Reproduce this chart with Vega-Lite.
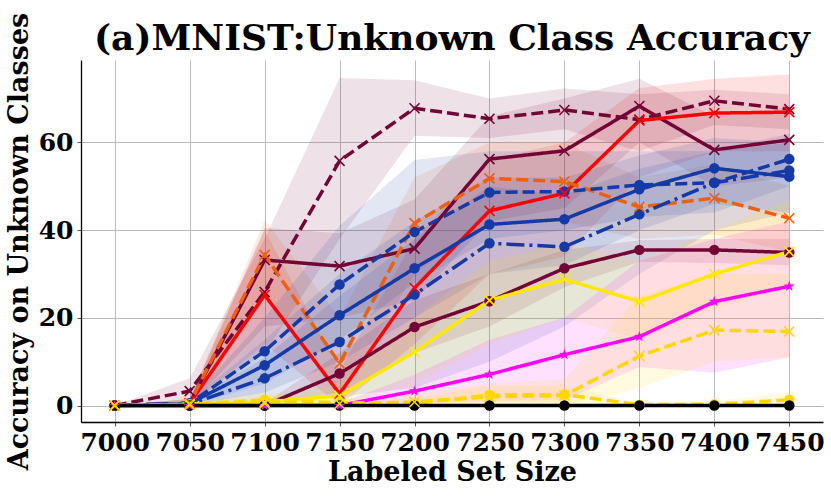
{
"$schema": "https://vega.github.io/schema/vega-lite/v6.json",
"width": 742, "height": 362,
"autosize": {"type": "none"},
"padding": {"left": 81, "top": 60, "right": 8, "bottom": 74},
"background": "white",
"title": {"text": "(a)MNIST:Unknown Class Accuracy", "font": "DejaVu Serif", "fontSize": 36, "fontWeight": "bold", "color": "black", "anchor": "middle", "offset": -56, "dy": 18, "baseline": "alphabetic"},
"config": {"view": {"stroke": null}, "font": "DejaVu Serif",
  "axis": {"labelFont": "DejaVu Serif", "labelFontSize": 25, "labelFontWeight": "bold", "labelColor": "black",
           "titleFont": "DejaVu Serif", "titleFontSize": 27, "titleFontWeight": "bold", "titleColor": "black",
           "grid": true, "gridColor": "#bbbbbb", "gridWidth": 1, "domainColor": "black", "domainWidth": 1.3, "tickColor": "#555555", "tickSize": 4}},
"data": {"values": [
{"s":"s1","x":7000,"y":0,"lo":0,"hi":0},{"s":"s1","x":7050,"y":3.3,"lo":0.5,"hi":6.2},{"s":"s1","x":7100,"y":25.9,"lo":12,"hi":38},{"s":"s1","x":7150,"y":55.8,"lo":38,"hi":74.7},{"s":"s1","x":7200,"y":67.8,"lo":61.5,"hi":74.2},{"s":"s1","x":7250,"y":65.4,"lo":61,"hi":70},{"s":"s1","x":7300,"y":67.4,"lo":63,"hi":72.3},{"s":"s1","x":7350,"y":65.2,"lo":58,"hi":71},{"s":"s1","x":7400,"y":69.5,"lo":64,"hi":72},{"s":"s1","x":7450,"y":67.6,"lo":63,"hi":71},
{"s":"s2","x":7000,"y":0,"lo":0,"hi":0},{"s":"s2","x":7050,"y":0.5,"lo":0,"hi":1.5},{"s":"s2","x":7100,"y":33.2,"lo":18,"hi":40.5},{"s":"s2","x":7150,"y":31.8,"lo":20,"hi":39.3},{"s":"s2","x":7200,"y":35.8,"lo":24,"hi":47},{"s":"s2","x":7250,"y":56.2,"lo":42,"hi":66},{"s":"s2","x":7300,"y":58.1,"lo":45,"hi":70},{"s":"s2","x":7350,"y":68.3,"lo":60,"hi":74.5},{"s":"s2","x":7400,"y":58.3,"lo":50,"hi":66},{"s":"s2","x":7450,"y":60.6,"lo":52,"hi":68},
{"s":"s3","x":7000,"y":0,"lo":0,"hi":0},{"s":"s3","x":7050,"y":0.5,"lo":0,"hi":1.5},{"s":"s3","x":7100,"y":25.2,"lo":14,"hi":40},{"s":"s3","x":7150,"y":2.7,"lo":0,"hi":8},{"s":"s3","x":7200,"y":26.8,"lo":14,"hi":38},{"s":"s3","x":7250,"y":44.4,"lo":30,"hi":56},{"s":"s3","x":7300,"y":48.4,"lo":34,"hi":60},{"s":"s3","x":7350,"y":65.0,"lo":52,"hi":72.4},{"s":"s3","x":7400,"y":66.7,"lo":58,"hi":74.5},{"s":"s3","x":7450,"y":66.9,"lo":58,"hi":75.5},
{"s":"s4","x":7000,"y":0,"lo":0,"hi":0},{"s":"s4","x":7050,"y":0.5,"lo":0,"hi":1.5},{"s":"s4","x":7100,"y":34.3,"lo":25,"hi":42.3},{"s":"s4","x":7150,"y":9.6,"lo":2,"hi":20},{"s":"s4","x":7200,"y":41.6,"lo":30,"hi":52},{"s":"s4","x":7250,"y":51.8,"lo":42,"hi":60},{"s":"s4","x":7300,"y":51.1,"lo":42,"hi":60},{"s":"s4","x":7350,"y":45.3,"lo":38,"hi":52},{"s":"s4","x":7400,"y":47.3,"lo":39,"hi":55},{"s":"s4","x":7450,"y":42.7,"lo":35,"hi":50},
{"s":"s5","x":7000,"y":0,"lo":0,"hi":0},{"s":"s5","x":7050,"y":0.5,"lo":0,"hi":1},{"s":"s5","x":7100,"y":12.4,"lo":5,"hi":20},{"s":"s5","x":7150,"y":27.6,"lo":15,"hi":41},{"s":"s5","x":7200,"y":39.6,"lo":28,"hi":56},{"s":"s5","x":7250,"y":48.6,"lo":38,"hi":58},{"s":"s5","x":7300,"y":48.8,"lo":40,"hi":58},{"s":"s5","x":7350,"y":50.3,"lo":43,"hi":58},{"s":"s5","x":7400,"y":50.8,"lo":44,"hi":58},{"s":"s5","x":7450,"y":56.2,"lo":50,"hi":62},
{"s":"s6","x":7000,"y":0,"lo":0,"hi":0},{"s":"s6","x":7050,"y":0.5,"lo":0,"hi":1},{"s":"s6","x":7100,"y":9.2,"lo":3,"hi":15},{"s":"s6","x":7150,"y":20.6,"lo":10,"hi":30},{"s":"s6","x":7200,"y":31.3,"lo":20,"hi":42},{"s":"s6","x":7250,"y":41.3,"lo":30,"hi":52},{"s":"s6","x":7300,"y":42.5,"lo":32,"hi":52},{"s":"s6","x":7350,"y":49.3,"lo":40,"hi":57},{"s":"s6","x":7400,"y":54.1,"lo":46,"hi":61},{"s":"s6","x":7450,"y":52.2,"lo":44,"hi":60},
{"s":"s7","x":7000,"y":0,"lo":0,"hi":0},{"s":"s7","x":7050,"y":0.3,"lo":0,"hi":0.8},{"s":"s7","x":7100,"y":6.2,"lo":1,"hi":11},{"s":"s7","x":7150,"y":14.5,"lo":2,"hi":25},{"s":"s7","x":7200,"y":25.3,"lo":4,"hi":38},{"s":"s7","x":7250,"y":37.0,"lo":10,"hi":50},{"s":"s7","x":7300,"y":36.2,"lo":18,"hi":48},{"s":"s7","x":7350,"y":43.6,"lo":30,"hi":54},{"s":"s7","x":7400,"y":50.8,"lo":40,"hi":58},{"s":"s7","x":7450,"y":53.6,"lo":44,"hi":60},
{"s":"s8","x":7000,"y":0,"lo":0,"hi":0},{"s":"s8","x":7050,"y":0,"lo":0,"hi":0},{"s":"s8","x":7100,"y":0,"lo":0,"hi":0.5},{"s":"s8","x":7150,"y":7.3,"lo":3,"hi":12},{"s":"s8","x":7200,"y":17.9,"lo":12,"hi":24},{"s":"s8","x":7250,"y":23.8,"lo":18,"hi":30},{"s":"s8","x":7300,"y":31.3,"lo":27,"hi":35.5},{"s":"s8","x":7350,"y":35.5,"lo":32.8,"hi":37.7},{"s":"s8","x":7400,"y":35.5,"lo":32.5,"hi":38},{"s":"s8","x":7450,"y":34.9,"lo":32,"hi":38},
{"s":"s9","x":7000,"y":0,"lo":0,"hi":0},{"s":"s9","x":7050,"y":0.3,"lo":0,"hi":0.8},{"s":"s9","x":7100,"y":0.8,"lo":0,"hi":2},{"s":"s9","x":7150,"y":2.2,"lo":0.5,"hi":5},{"s":"s9","x":7200,"y":12.2,"lo":5,"hi":20},{"s":"s9","x":7250,"y":24.0,"lo":14,"hi":33},{"s":"s9","x":7300,"y":28.8,"lo":20,"hi":37},{"s":"s9","x":7350,"y":23.7,"lo":15,"hi":33},{"s":"s9","x":7400,"y":30.0,"lo":22,"hi":40},{"s":"s9","x":7450,"y":35.1,"lo":27,"hi":47},
{"s":"s10","x":7000,"y":0,"lo":0,"hi":0},{"s":"s10","x":7050,"y":0,"lo":0,"hi":0},{"s":"s10","x":7100,"y":0,"lo":0,"hi":0},{"s":"s10","x":7150,"y":0,"lo":0,"hi":0.5},{"s":"s10","x":7200,"y":3.3,"lo":0.5,"hi":7},{"s":"s10","x":7250,"y":7.1,"lo":1,"hi":15},{"s":"s10","x":7300,"y":11.6,"lo":1.2,"hi":20},{"s":"s10","x":7350,"y":15.7,"lo":8.8,"hi":33},{"s":"s10","x":7400,"y":23.7,"lo":7.5,"hi":38},{"s":"s10","x":7450,"y":27.2,"lo":11,"hi":42},
{"s":"s11","x":7000,"y":0,"lo":0,"hi":0},{"s":"s11","x":7050,"y":0.2,"lo":0,"hi":0.6},{"s":"s11","x":7100,"y":0.5,"lo":0,"hi":1.4},{"s":"s11","x":7150,"y":0.4,"lo":0,"hi":1.2},{"s":"s11","x":7200,"y":0.8,"lo":0,"hi":2.5},{"s":"s11","x":7250,"y":2.0,"lo":0,"hi":5},{"s":"s11","x":7300,"y":2.3,"lo":0,"hi":6},{"s":"s11","x":7350,"y":11.3,"lo":4,"hi":25},{"s":"s11","x":7400,"y":17.2,"lo":10,"hi":30},{"s":"s11","x":7450,"y":16.9,"lo":11,"hi":30},
{"s":"s12","x":7000,"y":0,"lo":0,"hi":0},{"s":"s12","x":7050,"y":0.3,"lo":0,"hi":0.8},{"s":"s12","x":7100,"y":1.3,"lo":0,"hi":3},{"s":"s12","x":7150,"y":0.6,"lo":0,"hi":1.6},{"s":"s12","x":7200,"y":0.5,"lo":0,"hi":1.5},{"s":"s12","x":7250,"y":2.4,"lo":0.5,"hi":4.5},{"s":"s12","x":7300,"y":2.5,"lo":0.5,"hi":4.5},{"s":"s12","x":7350,"y":0.2,"lo":0,"hi":0.6},{"s":"s12","x":7400,"y":0.3,"lo":0,"hi":1},{"s":"s12","x":7450,"y":1.3,"lo":0,"hi":3},
{"s":"s13","x":7000,"y":0,"lo":0,"hi":0},{"s":"s13","x":7050,"y":0,"lo":0,"hi":0},{"s":"s13","x":7100,"y":0,"lo":0,"hi":0},{"s":"s13","x":7150,"y":0,"lo":0,"hi":0},{"s":"s13","x":7200,"y":0,"lo":0,"hi":0},{"s":"s13","x":7250,"y":0,"lo":0,"hi":0},{"s":"s13","x":7300,"y":0,"lo":0,"hi":0},{"s":"s13","x":7350,"y":0,"lo":0,"hi":0},{"s":"s13","x":7400,"y":0,"lo":0,"hi":0},{"s":"s13","x":7450,"y":0,"lo":0,"hi":0}
]},
"encoding": {
  "x": {"field": "x", "type": "quantitative", "scale": {"domain": [6977.5, 7472.5], "nice": false, "zero": false},
        "axis": {"values": [7000,7050,7100,7150,7200,7250,7300,7350,7400,7450], "format": "d", "title": "Labeled Set Size",
                 "labelPadding": 4, "labelFlush": false, "labelOverlap": false, "titlePadding": 4}},
  "color": {"field": "s", "type": "nominal", "legend": null,
            "scale": {"domain": ["s1","s2","s3","s4","s5","s6","s7","s8","s9","s10","s11","s12","s13"],
                      "range": ["#730536","#730536","#FF0000","#EE6010","#1539A5","#1539A5","#1539A5","#730536","#FFE800","#FF00FF","#FFD700","#FFD700","#000000"]}}
},
"layer": [
  {"mark": {"type": "area", "opacity": 0.12},
   "encoding": {"y": {"field": "lo", "type": "quantitative", "scale": {"domain": [-3.75, 78.8], "nice": false, "zero": false},
                      "axis": {"values": [0,20,40,60], "title": "Accuracy on Unknown Classes", "labelPadding": 4, "titlePadding": 5}},
                "y2": {"field": "hi"}}},
  {"mark": {"type": "line", "strokeWidth": 3.5},
   "encoding": {"y": {"field": "y", "type": "quantitative"},
                "strokeDash": {"field": "s", "type": "nominal", "legend": null,
                               "scale": {"domain": ["s1","s2","s3","s4","s5","s6","s7","s8","s9","s10","s11","s12","s13"],
                                         "range": [[12,5],[1,0],[1,0],[12,5],[12,5],[1,0],[18,5,3,5],[1,0],[1,0],[1,0],[12,5],[12,5],[1,0]]}}}},
  {"transform": [{"filter": {"field": "s", "oneOf": ["s5","s6","s7","s8","s12","s13"]}}],
   "mark": {"type": "point", "filled": true, "shape": "circle", "size": 110, "opacity": 1},
   "encoding": {"y": {"field": "y", "type": "quantitative"}}},
  {"transform": [{"filter": {"field": "s", "oneOf": ["s10"]}}],
   "mark": {"type": "point", "filled": true, "shape": "M0,-1L0.235,-0.324L0.951,-0.309L0.38,0.124L0.588,0.809L0,0.4L-0.588,0.809L-0.38,0.124L-0.951,-0.309L-0.235,-0.324Z", "size": 130, "opacity": 1},
   "encoding": {"y": {"field": "y", "type": "quantitative"}}},
  {"transform": [{"filter": {"field": "s", "oneOf": ["s1","s2","s3","s4","s9","s11"]}}],
   "mark": {"type": "point", "filled": false, "shape": "M-1,-1L1,1M-1,1L1,-1", "size": 100, "strokeWidth": 1.6, "opacity": 1},
   "encoding": {"y": {"field": "y", "type": "quantitative"}}}
]
}
